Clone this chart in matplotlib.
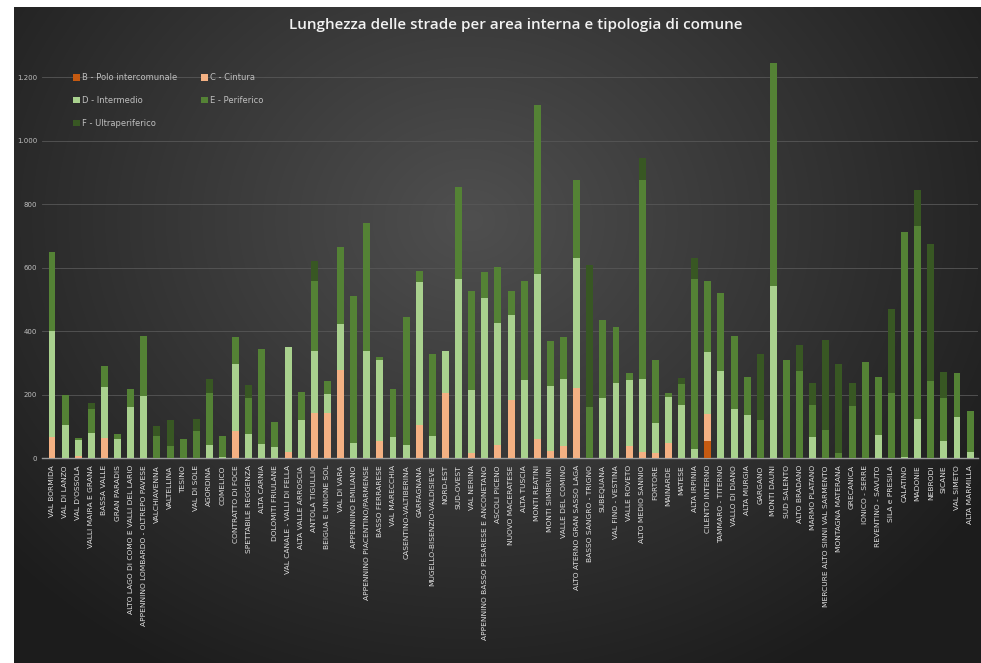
import numpy as np
import matplotlib.pyplot as plt
from matplotlib.ticker import FuncFormatter
from matplotlib.patches import Patch

aree = [
    "VAL BORMIDA", "VAL DI LANZO", "VAL D'OSSOLA", "VALLI MAIRA E GRANA", "BASSA VALLE",
    "GRAN PARADIS", "ALTO LAGO DI COMO E VALLI DEL LARIO", "APPENNINO LOMBARDO - OLTREPO PAVESE",
    "VALCHIAVENNA", "VALTELLINA", "TESINO", "VAL DI SOLE", "AGORDINA", "COMELICO",
    "CONTRATTO DI FOCE", "SPETTABILE REGGENZA", "ALTA CARNIA", "DOLOMITI FRIULANE",
    "VAL CANALE - VALLI DI FELLA", "ALTA VALLE ARROSCIA", "ANTOLA TIGULLIO", "BEIGUA E UNIONE SOL",
    "VAL DI VARA", "APPENNINO EMILIANO", "APPENNINO PIACENTINO/PARMENSE", "BASSO FERRARESE",
    "VAL MARECCHIA", "CASENTINO-VALTIBERINA", "GARFAGNANA", "MUGELLO-BISENZIO-VALDISIEVE",
    "NORD-EST", "SUD-OVEST", "VAL NERINA", "APPENNINO BASSO PESARESE E ANCONETANO",
    "ASCOLI PICENO", "NUOVO MACERATESE", "ALTA TUSCIA", "MONTI REATINI", "MONTI SIMBRUINI",
    "VALLE DEL COMINO", "ALTO ATERNO GRAN SASSO LAGA", "BASSO SANGRO - TRIGNO", "SUBEQUANA",
    "VAL FINO - VESTINA", "VALLE ROVETO", "ALTO MEDIO SANNIO", "FORTORE", "MAINARDE", "MATESE",
    "ALTA IRPINIA", "CILENTO INTERNO", "TAMMARO - TITERNO", "VALLO DI DIANO", "ALTA MURGIA",
    "GARGANO", "MONTI DAUNI", "SUD SALENTO", "ALTO BRADANO", "MARMO PLATANO",
    "MERCURE ALTO SINNI VAL SARMENTO", "MONTAGNA MATERANA", "GRECANICA", "IONICO - SERRE",
    "REVENTINO - SAVUTO", "SILA e PRESILA", "CALATINO", "MADONIE", "NEBRODI", "SICANE",
    "VAL SIMETO", "ALTA MARMILLA",
]

# km di strade per tipologia di comune
polo = [0]*50 + [55] + [0]*20
cintura = [66, 0, 7, 0, 63, 0, 0, 0, 0, 0, 0, 0, 0, 0, 87, 0, 0, 0, 21, 0,
           144, 142, 277, 0, 0, 55, 0, 0, 105, 0, 205, 0, 16, 0, 43, 184, 0, 61, 23, 40,
           220, 0, 0, 0, 39, 21, 17, 47, 0, 0, 84, 0, 0, 0, 0, 0, 0, 0, 0, 0,
           0, 0, 0, 0, 0, 0, 0, 0, 0, 0, 0]
intermedio = [334, 105, 51, 81, 161, 60, 163, 197, 0, 0, 0, 0, 43, 5, 209, 78, 44, 37, 329, 120,
              195, 62, 146, 47, 337, 255, 66, 43, 450, 70, 133, 564, 199, 506, 382, 267, 247, 519, 206, 210,
              412, 0, 190, 238, 208, 228, 94, 147, 167, 29, 197, 275, 154, 135, 0, 543, 0, 0, 67, 0,
              0, 0, 0, 73, 0, 5, 124, 0, 55, 129, 21]
periferico = [249, 95, 6, 75, 67, 16, 54, 189, 70, 40, 61, 87, 164, 65, 87, 113, 301, 77, 0, 90,
              219, 40, 244, 464, 403, 10, 153, 401, 36, 259, 0, 290, 313, 82, 177, 77, 312, 533, 141, 131,
              245, 163, 246, 175, 23, 628, 198, 11, 66, 535, 221, 245, 232, 120, 121, 701, 310, 275, 102, 89,
              18, 166, 304, 182, 205, 709, 609, 244, 134, 139, 128]
ultraperiferico = [0, 0, 0, 17, 0, 0, 0, 0, 32, 81, 0, 36, 44, 0, 0, 39, 0, 0, 0, 0,
                   62, 0, 0, 0, 0, 0, 0, 0, 0, 0, 0, 0, 0, 0, 0, 0, 0, 0, 0, 0,
                   0, 446, 0, 0, 0, 68, 0, 0, 19, 66, 0, 0, 0, 0, 206, 0, 0, 82, 69, 283,
                   280, 71, 0, 0, 265, 0, 112, 430, 82, 0, 0]

serie = [
    ("B - Polo intercomunale", polo, "#C55A11"),
    ("C - Cintura", cintura, "#F4B183"),
    ("D - Intermedio", intermedio, "#A9D18E"),
    ("E - Periferico", periferico, "#548235"),
    ("F - Ultraperiferico", ultraperiferico, "#385723"),
]

W, H = 981, 663
fig = plt.figure(figsize=(W/100, H/100), dpi=100, facecolor="white")

# sfondo scuro con gradiente radiale
bg = fig.add_axes([0, 0, 1, 1])
yy, xx = np.mgrid[0:H, 0:W]
r = np.sqrt(((xx - 470) / 620.0)**2 + ((yy - 220) / 520.0)**2)
r = np.clip(r, 0, 1)
shade = 0.31 - 0.20 * r
img = np.dstack([shade, shade, shade, np.ones_like(shade)])
img[:7, :, :3] = 1.0
img[:, :14, :3] = 1.0
bg.imshow(img, aspect="auto", extent=[0, W, H, 0], interpolation="bilinear")
bg.axis("off")

ax = fig.add_axes([41.5/W, (H-458.3)/H, (978-41.5)/W, 412.75/H])
ax.patch.set_alpha(0)

x = np.arange(len(aree))
bottom = np.zeros(len(aree))
for nome, valori, colore in serie:
    v = np.array(valori, dtype=float)
    ax.bar(x, v, 0.53, bottom=bottom, color=colore, label=nome, zorder=3, linewidth=0)
    bottom += v

ax.set_xlim(-0.8, len(aree) - 0.4)
ax.set_ylim(0, 1300)
ax.set_yticks(range(0, 1201, 200))
ax.yaxis.set_major_formatter(FuncFormatter(lambda v, p: f"{int(v):,}".replace(",", ".")))
ax.grid(axis="y", color="#575757", linewidth=0.6, zorder=0)
for s in ["top", "right", "left"]:
    ax.spines[s].set_visible(False)
ax.spines["bottom"].set_color("#9a9a9a")
ax.spines["bottom"].set_linewidth(1.0)
ax.tick_params(axis="y", length=0, labelsize=5, labelcolor="#bfbfbf", pad=3)
ax.tick_params(axis="x", length=0, pad=5)
ax.set_xticks(x)
ax.set_xticklabels(aree, rotation=90, fontsize=5.4, color="#e0e0e0",
                   family=["Liberation Sans Narrow", "DejaVu Sans"])

handles = [Patch(facecolor=c, label=n) for n, _, c in serie]
order = [0, 2, 4, 1, 3]
leg = ax.legend([handles[i] for i in order], [serie[i][0] for i in order],
                ncol=2, loc="upper left", bbox_to_anchor=(70/W, 1 - 70/H),
                bbox_transform=fig.transFigure, frameon=False, fontsize=6.0,
                handlelength=0.8, handleheight=0.8, handletextpad=0.3,
                labelspacing=1.65, columnspacing=2.8, borderaxespad=0)
for t in leg.get_texts():
    t.set_color("#bfbfbf")

fig.text(516/W, 1 - 25/H, "Lunghezza delle strade per area interna e tipologia di comune",
         ha="center", va="center", color="#f2f2f2", fontsize=11, fontweight="semibold",
         family=["Open Sans", "DejaVu Sans"])

fig.savefig("out.png", dpi=100, facecolor=fig.get_facecolor())
